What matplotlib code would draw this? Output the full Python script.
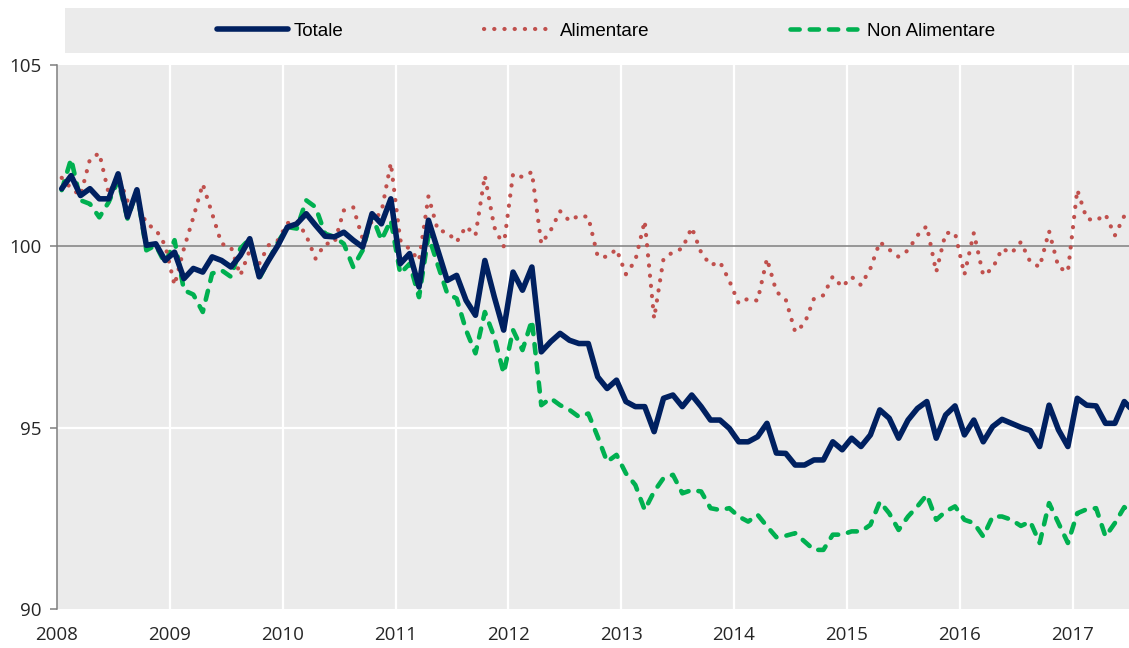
import matplotlib
matplotlib.use("Agg")
import matplotlib.pyplot as plt
from matplotlib.patches import Rectangle

# dati mensili, gennaio 2008 - luglio 2017 (indice, base 100)
anni = [2008, 2009, 2010, 2011, 2012, 2013, 2014, 2015, 2016, 2017]

totale = [
    101.59, 101.95, 101.40, 101.59, 101.31, 101.31, 102.00, 100.81, 101.56, 100.03, 100.07, 99.61,
    99.84, 99.11, 99.39, 99.29, 99.71, 99.61, 99.43, 99.75, 100.21, 99.16, 99.61, 100.03,
    100.53, 100.62, 100.90, 100.58, 100.28, 100.26, 100.39, 100.17, 99.98, 100.90, 100.62, 101.31,
    99.52, 99.80, 98.88, 100.72, 99.89, 99.06, 99.20, 98.51, 98.10, 99.61, 98.61, 97.69,
    99.29, 98.79, 99.43, 97.09, 97.37, 97.60, 97.41, 97.32, 97.32, 96.40, 96.08, 96.31,
    95.72, 95.58, 95.58, 94.89, 95.81, 95.90, 95.58, 95.90, 95.58, 95.21, 95.21, 94.98,
    94.61, 94.61, 94.75, 95.12, 94.30, 94.29, 93.97, 93.97, 94.11, 94.11, 94.61, 94.39,
    94.71, 94.48, 94.80, 95.49, 95.26, 94.71, 95.21, 95.53, 95.72, 94.71, 95.35, 95.60,
    94.80, 95.21, 94.61, 95.03, 95.23, 95.12, 95.01, 94.92, 94.48, 95.62, 94.94, 94.48,
    95.81, 95.62, 95.60, 95.12, 95.12, 95.72, 95.44,
]

alimentare = [
    101.89, 101.60, 101.40, 102.40, 102.57, 101.45, 101.95, 101.25, 101.28, 100.62, 100.47, 100.03,
    98.93, 99.94, 100.80, 101.72, 100.90, 100.07, 99.98, 99.20, 99.89, 99.52, 100.03, 100.17,
    100.64, 100.70, 100.30, 99.66, 100.07, 100.09, 100.99, 101.08, 100.21, 100.70, 100.94, 102.30,
    100.17, 99.92, 99.61, 101.38, 100.44, 100.39, 100.12, 100.55, 100.30, 101.95, 100.53, 100.00,
    102.00, 101.91, 102.05, 100.07, 100.44, 100.97, 100.70, 100.85, 100.81, 99.72, 99.71, 99.92,
    99.23, 99.61, 100.70, 98.01, 99.66, 99.84, 99.94, 100.52, 99.83, 99.48, 99.57, 99.05,
    98.42, 98.56, 98.50, 99.66, 98.75, 98.53, 97.64, 97.87, 98.56, 98.65, 99.17, 98.88,
    99.16, 98.93, 99.39, 100.12, 99.91, 99.71, 99.89, 100.30, 100.56, 99.29, 100.37, 100.37,
    99.22, 100.37, 99.20, 99.39, 99.94, 99.81, 100.12, 99.57, 99.43, 100.42, 99.42, 99.30,
    101.56, 100.76, 100.71, 100.88, 100.30, 100.84, 101.04,
]

non_alimentare = [
    101.55, 102.41, 101.27, 101.17, 100.80, 101.22, 101.82, 100.76, 101.54, 99.89, 100.03, 99.52,
    100.17, 98.79, 98.67, 98.19, 99.25, 99.34, 99.16, 99.94, 100.21, 99.11, 99.61, 100.12,
    100.53, 100.49, 101.27, 101.08, 100.35, 100.26, 100.07, 99.43, 99.89, 100.85, 100.17, 100.72,
    99.25, 99.52, 98.60, 100.30, 99.48, 98.70, 98.56, 97.69, 97.05, 98.19, 97.50, 96.50,
    97.69, 97.14, 97.96, 95.62, 95.81, 95.62, 95.49, 95.30, 95.39, 94.75, 94.06, 94.25,
    93.74, 93.42, 92.73, 93.24, 93.61, 93.70, 93.19, 93.28, 93.24, 92.78, 92.73, 92.78,
    92.55, 92.41, 92.60, 92.28, 91.98, 92.02, 92.09, 91.86, 91.63, 91.63, 92.05, 92.05,
    92.14, 92.14, 92.32, 92.96, 92.64, 92.18, 92.55, 92.83, 93.15, 92.46, 92.69, 92.83,
    92.46, 92.37, 92.00, 92.55, 92.55, 92.46, 92.29, 92.41, 91.82, 92.92, 92.37, 91.82,
    92.64, 92.75, 92.78, 92.00, 92.37, 92.81, 92.55,
]

# ogni punto al centro del suo mese
mesi = [anni[0] + (i + 0.5) / 12 for i in range(len(totale))]

plt.rcParams['font.family'] = ['Open Sans', 'DejaVu Sans']
GRIGIO = '#EBEBEB'

fig = plt.figure(figsize=(11.29, 6.48), dpi=100)
ax = fig.add_axes([57 / 1129, 1 - 609 / 648, 1 - 57 / 1129, (609 - 65) / 648])
ax.set_facecolor(GRIGIO)

# griglia bianca + asse grigio a 100
for a in anni[1:]:
    ax.axvline(a, color='white', lw=1.6, zorder=1)
ax.axhline(95, color='white', lw=1.6, zorder=1)
ax.axhline(100, color='#7F7F7F', lw=1.1, zorder=2)

ax.plot(mesi, non_alimentare, color='#00B050', lw=3.3, linestyle=(0, (2.0, 2.2)),
        dash_capstyle='round', label='Non Alimentare', zorder=3)
ax.plot(mesi, alimentare, color='#C0504D', lw=3.0, linestyle=(0, (0.05, 2.4)),
        dash_capstyle='round', label='Alimentare', zorder=4)
ax.plot(mesi, totale, color='#002060', lw=4, solid_capstyle='round',
        label='Totale', zorder=5)

ax.set_xlim(2008, 2017.5)
ax.set_ylim(90, 105)
ax.set_xticks(anni)
ax.set_xticklabels([str(a) for a in anni])
ax.set_yticks([90, 95, 100, 105])

for s in ['top', 'right', 'bottom']:
    ax.spines[s].set_visible(False)
ax.spines['left'].set_color('#7F7F7F')
ax.spines['left'].set_linewidth(1.1)

ax.tick_params(axis='x', length=0, pad=12, labelsize=13.5, labelcolor='#262626')
ax.tick_params(axis='y', length=5, width=1.1, color='#7F7F7F', pad=6,
               labelsize=13.5, labelcolor='#262626')

# legenda in un riquadro grigio sopra il grafico
fig.patches.append(Rectangle((65 / 1129, 1 - 53 / 648), 1 - 65 / 1129, 45 / 648,
                             transform=fig.transFigure, facecolor=GRIGIO,
                             edgecolor='none', zorder=0))
h, l = ax.get_legend_handles_labels()
ordine = [2, 1, 0]
fig.legend([h[i] for i in ordine], [l[i] for i in ordine], loc='center',
           bbox_to_anchor=(606 / 1129, 1 - 31 / 648), ncol=3, frameon=False,
           handlelength=3.8, handletextpad=0.28, columnspacing=7.5,
           prop={'family': ['Liberation Sans', 'DejaVu Sans'], 'size': 13.5})

fig.savefig('out.png', dpi=100)
